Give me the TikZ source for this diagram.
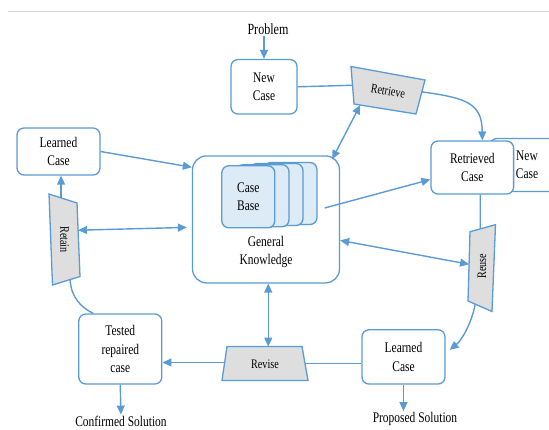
\documentclass[tikz,border=0pt]{standalone}
\usepackage{fontspec}
\setmainfont[FakeStretch=0.78]{Liberation Serif}
\usetikzlibrary{arrows.meta,calc}
\definecolor{cbrline}{HTML}{5B9BD5}
\definecolor{cbrcase}{HTML}{DDEBF7}
\definecolor{cbrstep}{HTML}{DEDEDE}
\newcommand\boxfont{\fontsize{14.7}{18.5}\selectfont}

\begin{document}
\begin{tikzpicture}[x=1pt,y=-1pt,
		box/.style={draw=cbrline,line width=1.3pt,rounded corners=7pt,fill=white,align=center,inner sep=2pt,font=\boxfont},
		casebox/.style={box,fill=cbrcase,minimum width=53pt,minimum height=62pt},
		stepbox/.style={draw=cbrline,line width=1.3pt,fill=cbrstep},
		steplabel/.style={font=\fontsize{13}{14}\selectfont,inner sep=1pt},
		lbl/.style={font=\boxfont,align=center,inner sep=1pt},
		link/.style={cbrline,line width=1.4pt},
		arr/.style={link,-{Triangle[length=9pt,width=8pt]}},
		dbl/.style={link,{Triangle[length=9pt,width=8pt]}-{Triangle[length=9pt,width=8pt]}}]
		\useasboundingbox (0,0) rectangle (549,429);
		\draw[gray!35,line width=0.6pt] (8,11.5) -- (549,11.5);

		\node[lbl,font=\fontsize{15.5}{16}\selectfont] (problem) at (268,29) {Problem};
		\node[box,minimum width=66pt,minimum height=54.5pt] (newcase) at (264,86.8) {New\\Case};
		\node[box,minimum width=83pt,minimum height=47pt] (learnedtop) at (58.5,151.5) {Learned\\Case};
		\node[box,rounded corners=14pt,minimum width=147pt,minimum height=127pt] (gk) at (266,219.4) {};
		\node[lbl] (gklabel) at (266,252) {General\\Knowledge};
		\foreach \i/\x/\y in {4/290.5/193.5,3/276.5/194.5,2/262.5/195.7}
			\node[casebox] (cb\i) at (\x,\y) {};
		\node[casebox] (cb1) at (248.3,196.8) {Case\\Base};
		\node[box,minimum width=74pt,minimum height=53pt] (newcasetwo) at (527,165) {New\\Case};
		\node[box,minimum width=82.6pt,minimum height=53pt] (retrieved) at (472.3,167.5) {Retrieved\\Case};
		\node[box,minimum width=83pt,minimum height=70pt] (tested) at (120.3,349) {Tested\\repaired\\case};
		\node[box,minimum width=83pt,minimum height=54.3pt] (learnedbot) at (403.5,356.9) {Learned\\Case};
		\node[lbl] (confirmed) at (121,421) {Confirmed Solution};
		\node[lbl] (proposed) at (415,419) {Proposed Solution};

		% the four steps
		\draw[stepbox] (351,66.5) coordinate (retrieveTL) -- (425,80) coordinate (retrieveTR)
			-- (416,114) coordinate (retrieveBR) -- (354,104) coordinate (retrieveBL) -- cycle;
		\node[steplabel,rotate=-10] (retrieve) at (388,91) {Retrieve};
		\draw[stepbox] (49,194) coordinate (retainTL) -- (77,203) coordinate (retainTR)
			-- (80,276.5) coordinate (retainBR) -- (52.5,285) coordinate (retainBL) -- cycle;
		\node[steplabel,rotate=-90] (retain) at (64.6,239.6) {Retain};
		\draw[stepbox] (470,231.7) coordinate (reuseTL) -- (495.5,224.7) coordinate (reuseTR)
			-- (492,311.5) coordinate (reuseBR) -- (468,301) coordinate (reuseBL) -- cycle;
		\node[steplabel,rotate=90] (reuse) at (482,266) {Reuse};
		\draw[stepbox] (227,346.5) coordinate (reviseTL) -- (302,346.5) coordinate (reviseTR)
			-- (308,380.5) coordinate (reviseBR) -- (222,380.5) coordinate (reviseBL) -- cycle;
		\node[steplabel] (revise) at (265,364) {Revise};

		\coordinate (retrieveW) at ($(retrieveTL)!0.5!(retrieveBL)$);
		\coordinate (retrieveE) at ($(retrieveTR)!0.35!(retrieveBR)$);
		\coordinate (retrieveS) at ($(retrieveBL)!0.1!(retrieveBR)$);
		\coordinate (retainN) at ($(retainTL)!0.43!(retainTR)$);
		\coordinate (retainE) at ($(retainTR)!0.37!(retainBR)$);
		\coordinate (retainS) at ($(retainBL)!0.64!(retainBR)$);
		\coordinate (reuseN) at ($(reuseTL)!0.4!(reuseTR)$);
		\coordinate (reuseW) at ($(reuseTL)!0.47!(reuseBL)$);
		\coordinate (reuseS) at ($(reuseBL)!0.3!(reuseBR)$);
		\coordinate (reviseN) at ($(reviseTL)!0.55!(reviseTR)$);
		\coordinate (reviseW) at ($(reviseTL)!0.47!(reviseBL)$);
		\coordinate (reviseE) at ($(reviseTR)!0.5!(reviseBR)$);

		\draw[arr] (problem.south -| newcase.north) -- (newcase.north);
		\draw[link] (newcase.east) -- (retrieveW);
		\draw[arr] (retrieveE) .. controls (468,98) and (482,104) .. ([xshift=10pt]retrieved.north);
		\draw[dbl] (retrieveS) -- ([xshift=-8pt,yshift=-4pt]gk.north east);
		\draw[arr] (learnedtop.east) -- ([yshift=-12pt]gk.north west);
		\draw[dbl] (retainE) -- ([xshift=-5pt,yshift=-8pt]gk.west);
		\draw[arr] (retainN) -- (retainN |- learnedtop.south);
		\draw[link] (retainS) .. controls (71,298) and (82,308) .. ([xshift=-27pt]tested.north);
		\draw[arr] ($(cb4.east)+(7,14.5)$) -- ([yshift=-12pt]retrieved.west);
		\draw[dbl] ([yshift=-21pt]gk.east) -- (reuseW);
		\draw[link] ([xshift=8pt]retrieved.south) -- (reuseN);
		\draw[arr] (reuseS) .. controls (472,322) and (462,340) .. ([xshift=4pt,yshift=7pt]learnedbot.east);
		\draw[dbl] (reviseN |- gk.south) -- (reviseN);
		\draw[link] (learnedbot.west |- reviseE) -- (reviseE);
		\draw[arr] (reviseW) -- (reviseW -| tested.east);
		\draw[arr] (tested.south) -- (confirmed);
		\draw[arr] (learnedbot.south) -- (learnedbot.south |- proposed.north);
	\end{tikzpicture}
\end{document}
